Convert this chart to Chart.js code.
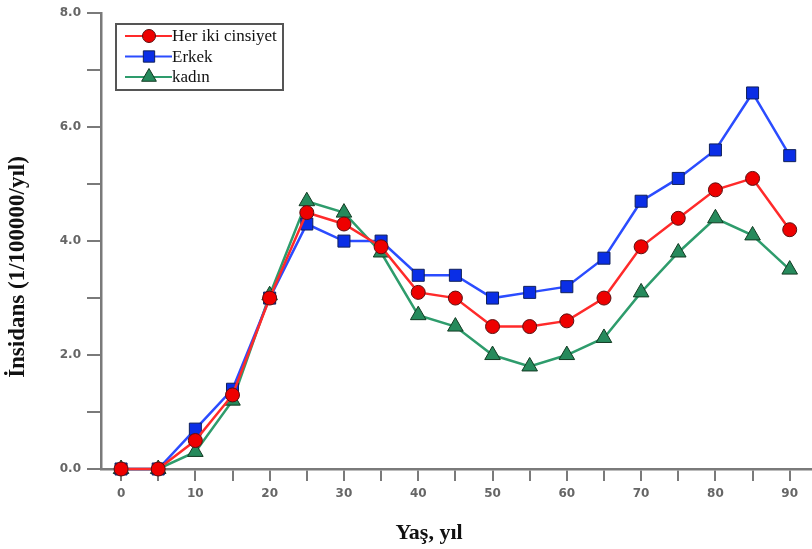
<!DOCTYPE html>
<html>
<head>
<meta charset="utf-8">
<script src="https://cdn.jsdelivr.net/npm/chart.js@4.4.1/dist/chart.umd.min.js"></script>
<style>
  html, body { margin: 0; padding: 0; background: #fff; }
  #wrap { width: 812px; height: 549px; position: relative; }
</style>
</head>
<body>
<div id="wrap"><canvas id="incidenceChart"></canvas></div>
<script>
const ages = [0, 5, 10, 15, 20, 25, 30, 35, 40, 45, 50, 55, 60, 65, 70, 75, 80, 85, 90];
const both = [0, 0, 0.5, 1.3, 3.0, 4.5, 4.3, 3.9, 3.1, 3.0, 2.5, 2.5, 2.6, 3.0, 3.9, 4.4, 4.9, 5.1, 4.2];
const male = [0, 0, 0.7, 1.4, 3.0, 4.3, 4.0, 4.0, 3.4, 3.4, 3.0, 3.1, 3.2, 3.7, 4.7, 5.1, 5.6, 6.6, 5.5];
const female = [0, 0, 0.3, 1.2, 3.05, 4.7, 4.5, 3.8, 2.7, 2.5, 2.0, 1.8, 2.0, 2.3, 3.1, 3.8, 4.4, 4.1, 3.5];
const seriesLabels = ['Her iki cinsiyet', 'Erkek', 'kadın'];
const xTicks = [0, 5, 10, 15, 20, 25, 30, 35, 40, 45, 50, 55, 60, 65, 70, 75, 80, 85, 90];
const yTicks = [0, 1, 2, 3, 4, 5, 6, 7, 8];
const xTitle = 'Yaş, yıl';
const yTitle = 'İnsidans (1/100000/yıl)';

const axisColor = '#7a7a7a';
const tickFont = { family: 'DejaVu Sans', size: 12, weight: 'bold' };

function toPoints(vals) {
    return ages.map((a, i) => ({ x: a, y: vals[i] }));
}

// legend box with line + marker, like the original
const boxLegend = {
    id: 'boxLegend',
    afterDraw(chart) {
        const ctx = chart.ctx;
        const left = 116, top = 24, w = 167, h = 66;
        ctx.save();
        ctx.fillStyle = '#fff';
        ctx.fillRect(left, top, w, h);
        ctx.strokeStyle = '#555';
        ctx.lineWidth = 2;
        ctx.strokeRect(left, top, w, h);
        chart.data.datasets.forEach((ds, i) => {
            const y = top + 12 + i * 20.5;
            ctx.strokeStyle = ds.borderColor;
            ctx.lineWidth = 2;
            ctx.beginPath();
            ctx.moveTo(left + 9, y);
            ctx.lineTo(left + 56, y);
            ctx.stroke();
            ctx.fillStyle = ds.pointBackgroundColor;
            ctx.strokeStyle = ds.pointBorderColor;
            ctx.lineWidth = 1;
            Chart.helpers.drawPoint(ctx, {
                pointStyle: ds.pointStyle, radius: ds.pointRadius - 0.5,
                borderWidth: 1, rotation: 0
            }, left + 33, y);
            ctx.fillStyle = '#111';
            ctx.font = '17px "Liberation Serif"';
            ctx.textBaseline = 'middle';
            ctx.textAlign = 'left';
            ctx.fillText(ds.label, left + 56, y + 1);
        });
        ctx.restore();
    }
};

const axisTitles = {
    id: 'axisTitles',
    afterDraw(chart) {
        const ctx = chart.ctx;
        ctx.save();
        ctx.fillStyle = '#111';
        ctx.textAlign = 'center';
        ctx.textBaseline = 'middle';
        ctx.font = 'bold 22px "Liberation Serif"';
        ctx.fillText(xTitle, 429, 533);
        ctx.translate(18, 267);
        ctx.rotate(-Math.PI / 2);
        ctx.font = 'bold 23px "Liberation Serif"';
        ctx.fillText(yTitle, 0, 0);
        ctx.restore();
    }
};

new Chart(document.getElementById('incidenceChart'), {
    type: 'line',
    data: {
        datasets: [
            {
                label: seriesLabels[0], data: toPoints(both),
                borderColor: '#ff2a2a', borderWidth: 2.5,
                pointStyle: 'circle', pointRadius: 7,
                pointBackgroundColor: '#ee0000', pointBorderColor: '#5a1010', pointBorderWidth: 1
            },
            {
                label: seriesLabels[1], data: toPoints(male),
                borderColor: '#2b4cff', borderWidth: 2.5,
                pointStyle: 'rect', pointRadius: 8.5,
                pointBackgroundColor: '#0a2ee6', pointBorderColor: '#10205a', pointBorderWidth: 1
            },
            {
                label: seriesLabels[2], data: toPoints(female),
                borderColor: '#2e9c6c', borderWidth: 2.5,
                pointStyle: 'triangle', pointRadius: 9,
                pointBackgroundColor: '#268a5c', pointBorderColor: '#123a22', pointBorderWidth: 1
            }
        ]
    },
    options: {
        responsive: true,
        maintainAspectRatio: false,
        animation: false,
        layout: { autoPadding: false, padding: { top: 13, right: 0, left: 0, bottom: 0 } },
        elements: { line: { tension: 0 } },
        plugins: { legend: { display: false }, tooltip: { enabled: false } },
        datasets: { line: { clip: false } },
        scales: {
            x: {
                type: 'linear', min: -2.7, max: 93,
                afterBuildTicks: s => { s.ticks = xTicks.map(v => ({ value: v })); },
                afterFit: s => { s.height = 80; },
                border: { color: axisColor, width: 2.5 },
                grid: { drawOnChartArea: false, drawTicks: true, tickLength: 12, color: axisColor, lineWidth: 2 },
                ticks: {
                    autoSkip: false, maxRotation: 0, padding: 6, color: '#666', font: tickFont,
                    callback: v => (v % 10 === 0 ? String(v) : '')
                }
            },
            y: {
                min: 0, max: 8,
                afterBuildTicks: s => { s.ticks = yTicks.map(v => ({ value: v })); },
                afterFit: s => { s.width = 101; },
                border: { color: axisColor, width: 2.5 },
                grid: { drawOnChartArea: false, drawTicks: true, tickLength: 14, color: axisColor, lineWidth: 2 },
                ticks: {
                    autoSkip: false, padding: 6, color: '#666', font: tickFont,
                    callback: v => (v % 2 === 0 ? v.toFixed(1) : '')
                }
            }
        }
    },
    plugins: [boxLegend, axisTitles]
});
</script>
</body>
</html>
